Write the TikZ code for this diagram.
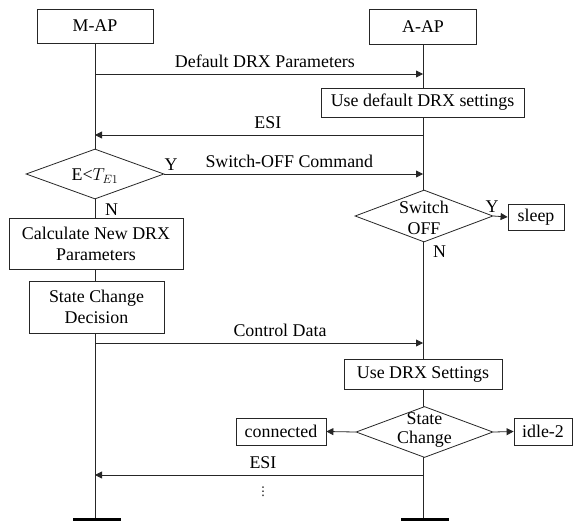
\documentclass[tikz,border=0pt]{standalone}
\usepackage{fontspec}
\setmainfont{Liberation Serif}
\newfontfamily\symfont{DejaVu Sans}
\usetikzlibrary{shapes.geometric,arrows.meta}
\begin{document}
\begin{tikzpicture}[x=1pt,y=-1pt,
  every node/.style={font=\fontsize{17.9}{21}\selectfont},
  line/.style={draw=black!85, line width=0.8pt},
  box/.style={line, fill=white, inner sep=0pt, align=center},
  dbox/.style={line, fill=white, diamond, inner sep=0pt},
  dtext/.style={inner sep=0pt, align=center},
  msg/.style={line, -{Triangle[length=7pt,width=7pt]}},
  lbl/.style={anchor=south, text depth=4pt, inner sep=2pt},
  yn/.style={anchor=base, inner sep=0pt},
  endbar/.style={draw=black, line width=3pt}]
\useasboundingbox (0,0) rectangle (573,520);

% lifeline end points
\coordinate (mend) at (95,519);
\coordinate (aend) at (423,519);

% entity boxes
\node[box, minimum width=116pt, minimum height=34pt] (map) at (95,26) {M-AP};
\node[box, minimum width=107pt, minimum height=35pt] (aap) at (423,26.5) {A-AP};

% lifelines
\draw[line] (map.south) -- (mend);
\draw[line] (aap.south) -- (aend);
\draw[endbar] (73,519) -- (121,519);
\draw[endbar] (401,519) -- (449,519);

% M-AP side
\node[dbox, minimum width=138pt, minimum height=50pt] (d1) at (95,174) {};
\node[dtext] (d1t) at (95,176) {E<$T_{E1}$};
\node[box, minimum width=174pt, minimum height=51pt] (calc) at (96,243.5)
  {Calculate New DRX\\Parameters};
\node[box, minimum width=135pt, minimum height=52pt] (dec) at (96.5,307)
  {State Change\\Decision};

% A-AP side
\node[box, minimum width=203pt, minimum height=29pt] (usedef) at (422.5,102.5)
  {Use default DRX settings};
\node[dbox, minimum width=138pt, minimum height=52pt] (d2) at (424,216) {};
\node[dtext] (d2t) at (424,218) {Switch\\OFF};
\node[box, minimum width=56pt, minimum height=26pt] (sleep) at (536,217) {sleep};
\node[box, minimum width=158pt, minimum height=30pt] (usedrx) at (423,374)
  {Use DRX Settings};
\node[dbox, minimum width=137pt, minimum height=51pt] (d3) at (424.5,432) {};
\node[dtext] (d3t) at (424.5,430) {State\\[-2pt]Change};
\node[box, minimum width=90pt, minimum height=27pt] (conn) at (281,431.5) {connected};
\node[box, minimum width=58pt, minimum height=27pt] (idle) at (543,431.5) {idle-2};

% message anchor points on the lifelines
\coordinate (m1) at (95,74);   \coordinate (a1) at (423,74);
\coordinate (m2) at (95,135);  \coordinate (a2) at (423,135);
\coordinate (a3) at (423,174);
\coordinate (m5) at (95,343);  \coordinate (a5) at (423,343);
\coordinate (m7) at (95,475);  \coordinate (a7) at (423,475);

% messages
\draw[msg] (m1) -- node[lbl, pos=0.518] (l1) {Default DRX Parameters} (a1);
\draw[msg] (a2) -- node[lbl, pos=0.473] (l2) {ESI} (m2);
\draw[msg] (d1.east) -- node[lbl, pos=0.483] (l3) {Switch-OFF Command} (a3);
\draw[msg] (m5) -- node[lbl, pos=0.564] (l5) {Control Data} (a5);
\draw[msg] (a7) -- node[lbl, pos=0.488] (l7) {ESI} (m7);

% decision branches
\draw[msg] (d2.east) -- (sleep.west);
\draw[msg] (d3.west) -- (conn.east);
\draw[msg] (d3.east) -- (idle.west);

% branch labels
\node[yn] (y1) at (171,170) {Y};
\node[yn] (n1) at (111.5,215) {N};
\node[yn] (y2) at (492,212) {Y};
\node[yn] (n2) at (439.5,257) {N};

% continuation dots
\node[font=\symfont\fontsize{12}{14}\selectfont, inner sep=0pt] (dots) at (263,492) {⋮};
\end{tikzpicture}
\end{document}
